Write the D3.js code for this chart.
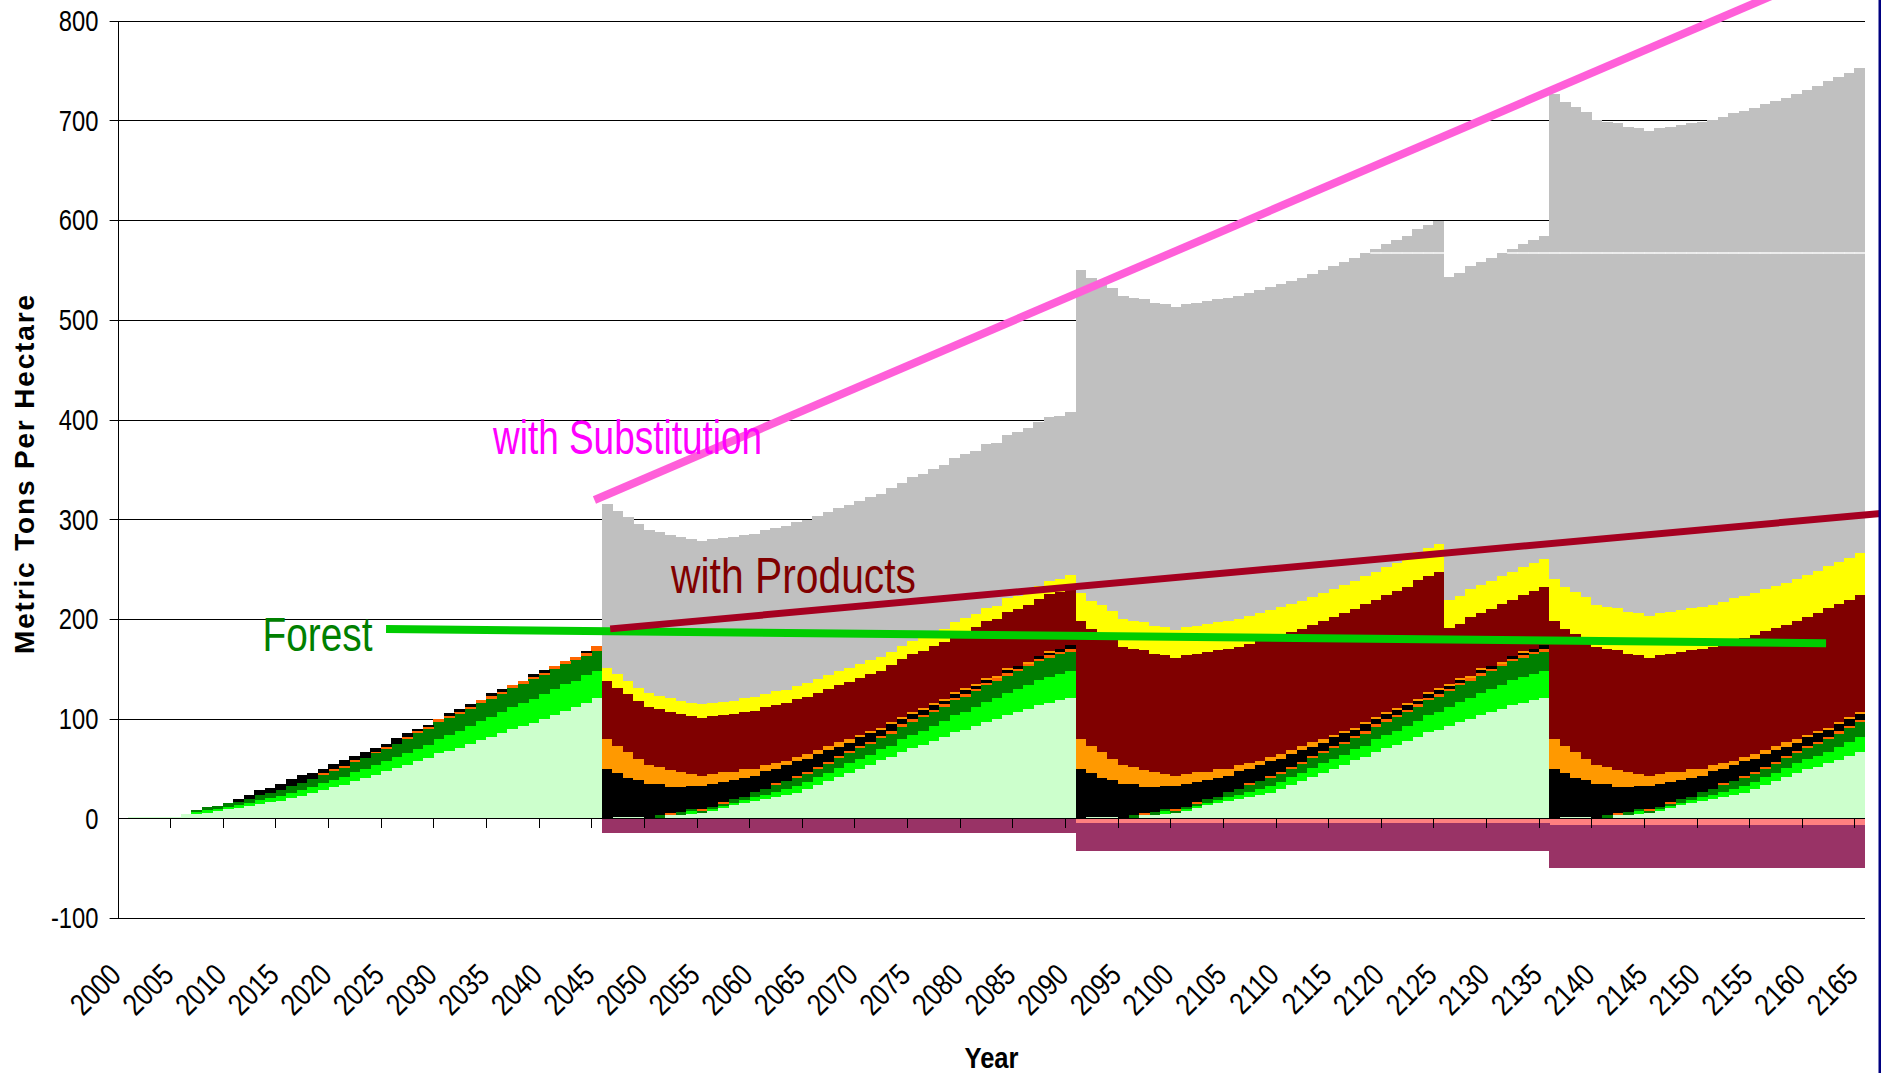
<!DOCTYPE html>
<html><head><meta charset="utf-8">
<script src="https://cdn.jsdelivr.net/npm/d3@7"></script>
<style>body{margin:0;background:#fff;} svg{display:block;}</style>
</head><body>
<svg id="chart" width="1881" height="1073"></svg>
<script>
// ---------------- DATA ----------------
const firstYear = 2000, lastYear = 2165;
const years = d3.range(firstYear, lastYear + 1);
const xTickLabels = [2000,2005,2010,2015,2020,2025,2030,2035,2040,2045,2050,2055,2060,2065,2070,2075,2080,2085,2090,2095,2100,2105,2110,2115,2120,2125,2130,2135,2140,2145,2150,2155,2160,2165];
const yTicks = [-100,0,100,200,300,400,500,600,700,800];

const lightGreen = [
 0,1,1,1,1,1,4,4.4,5.5,7,9,10,12,14,16,17,20,22.5,25,28,31,33,37,40,43,47,50,53,57,60,65,68,71,75,79,82,86,90,93,96,100,104,108,112,115.7,120.7,
 0,1.3,1.3,1.3,0,0,3.5,3.5,4.5,5.7,7.7,10.5,13,15,17.5,19.5,21.5,23.5,25.5,29,33,37,41.5,45.5,49.8,53.2,58.2,61.5,66.6,70.6,74,77.6,81.6,86.6,88.3,92.3,96.7,100,103.3,106.7,110,113.4,116,118.4,120.7,
 0,1.3,1.3,1.3,0,0,3.5,3.5,4.5,5.7,7.7,10.5,13,15,17.5,19.5,21.5,23.5,25.5,29,33,37,41.5,45.5,49.8,53.2,58.2,61.5,66.6,70.6,74,77.6,81.6,86.6,88.3,92.3,96.7,100,103.3,106.7,110,113.4,116,118.4,120.7,
 0,1.3,1.3,1.3,0,0,3.5,3.5,4.5,5.7,7.7,10.5,13,15,17.5,19.5,21.5,23.5,25.5,29,33,37,41.5,45.5,49.8,51,55,58.5,62.5,66.5];
const brightGreen = [
 0,0,0,0,0,0,0,2.2,2.5,2.5,2.5,3,3.5,4,4.5,5,5.5,6,6.5,7,7.5,8.5,9,9.5,10,10.5,11.5,12,13,14,15,16,17,18,19,20,21,22,23,24,25,26,26.5,26,27.8,27,
 0,0,0,0,0,0,0,0,2.5,0,2,2,2.5,3,3.5,4,5,6,7,7.5,8,8.5,9,9.5,10,10.5,11,11.5,12.5,13,14,15,16,17,18,19,20,21,22,23,24,25,26,26.5,27,
 0,0,0,0,0,0,0,0,2.5,0,2,2,2.5,3,3.5,4,5,6,7,7.5,8,8.5,9,9.5,10,10.5,11,11.5,12.5,13,14,15,16,17,18,19,20,21,22,23,24,25,26,26.5,27,
 0,0,0,0,0,0,0,0,2.5,0,2,2,2.5,3,3.5,4,5,6,7,7.5,8,8.5,9,9.5,10,11.5,12,13,14,15];
const darkGreen = [
 0,0,0,0,0,0,0,2.2,3,3.3,3.5,3.5,4,5,5,6,6.5,7,7.5,8,8.5,9,10,11,12,12.5,13.5,14.5,15.5,16,16.3,16.3,16.3,17,17.4,17.4,17.4,18.4,18.4,19.5,18.5,19.5,20,20.5,19,20,
 0.8,0,0,0,0,3,0,2.5,2,2,2,2,3.5,3.5,5,6,7,7.5,7.5,8,8.5,9,9.5,10,10.5,11,11.5,12,12.5,13,13.5,14,14.5,15,15.5,16,16.5,17,17.5,18,18.5,19,19,19.5,19.5,
 0.8,0,0,0,0,3,0,2.5,2,2,2,2,3.5,3.5,5,6,7,7.5,7.5,8,8.5,9,9.5,10,10.5,11,11.5,12,12.5,13,13.5,14,14.5,15,15.5,16,16.5,17,17.5,18,18.5,19,19,19.5,19.5,
 0.8,0,0,0,0,3,0,2.5,2,2,2,2,3.5,3.5,5,6,7,7.5,7.5,8,8.5,9,9.5,10,10.5,12,12.5,13.5,14,15];
const orangeRed = [
 0,0,0,0,0,0,0,0,0,0,0,0,0,0,0,0,0,0,0,2,2,2,2,0,2,2,0,2,2,2,3,2,2,1.5,3,3,2,3,3.1,2,2,3,3,3,2.8,5,
 0,0,0,0,0,0,2,0,0,2,0,2.2,0,0,0,0,2,0,2,2,2.2,2.2,2,2.2,2.2,2.2,2.2,2.5,2.5,2.5,2.5,2.5,2.5,2.5,2.5,2.5,2.5,2.5,2.5,2.5,2.5,2.5,2.5,2.5,2.5,
 0,0,0,0,0,0,2,0,0,2,0,2.2,0,0,0,0,2,0,2,2,2.2,2.2,2,2.2,2.2,2.2,2.2,2.5,2.5,2.5,2.5,2.5,2.5,2.5,2.5,2.5,2.5,2.5,2.5,2.5,2.5,2.5,2.5,2.5,2.5,
 0,0,0,0,0,0,2,0,0,2,0,2.2,0,0,0,0,2,0,2,2,2.2,2.2,2,2.2,2.2,2.2,2.2,2.5,2.5,2.5];
const black = [
 0,0,0,0,0,0,0,0,0,0,0,2.5,4.3,5,4.5,6.5,7,7.5,6,4,5,5.5,4,6.5,4,3,6,4.5,2.5,2,0,3,3,2.9,0,3,3,0,0,3,3,0,0,0,2.3,0,
 48.4,44.2,38.8,36.8,34.1,31.1,25.6,25.1,23.1,22.4,22.4,19.4,19.1,18.6,16.1,17.7,13.7,16.2,15.2,12.7,12.5,11.5,9.6,8.4,9.1,8.7,5.4,6.8,5.9,5.9,4.4,4.3,2.8,3.3,4.1,2.6,3,0,3,2.5,0,3,2.5,3,3.9,
 48.4,44.2,38.8,36.8,34.1,31.1,25.6,25.1,23.1,22.4,22.4,19.4,19.1,18.6,16.1,17.7,13.7,16.2,15.2,12.7,12.5,11.5,9.6,8.4,9.1,8.7,5.4,6.8,5.9,5.9,4.4,4.3,2.8,3.3,4.1,2.6,3,0,3,2.5,0,3,2.5,3,3.9,
 48.4,44.2,38.8,36.8,34.1,31.1,25.6,25.1,23.1,22.4,22.4,19.4,19.1,18.6,16.1,17.7,13.7,16.2,15.2,12.7,12.5,11.5,9.6,8.4,9.1,8.9,6.6,6.8,7,6];
const orange = [
 0,0,0,0,0,0,0,0,0,0,0,0,0,0,0,0,0,0,0,0,0,0,0,0,0,0,0,0,0,0,0,0,0,0,0,0,0,0,0,0,0,0,0,0,0,0,
 30.1,26.7,26.5,21.1,19.1,17.5,17,15,12,10,10,10.1,8.1,9.1,7.1,6,6.3,4.3,4.3,5,4,4,5,3.7,2,2,2,2,2,2,2,2,2,2,2,2,2,2,2,0,2,0,2,0,0,
 30.1,26.7,26.5,21.1,19.1,17.5,17,15,12,10,10,10.1,8.1,9.1,7.1,6,6.3,4.3,4.3,5,4,4,5,3.7,2,2,2,2,2,2,2,2,2,2,2,2,2,2,2,0,2,0,2,0,0,
 30.1,26.7,26.5,21.1,19.1,17.5,17,15,12,10,10,10.1,8.1,9.1,7.1,6,6.3,4.3,4.3,5,4,4,5,3.7,2,2,2,2,2,2];
const maroon = [
 0,0,0,0,0,0,0,0,0,0,0,0,0,0,0,0,0,0,0,0,0,0,0,0,0,0,0,0,0,0,0,0,0,0,0,0,0,0,0,0,0,0,0,0,0,0,
 58.2,58.6,57.8,58.2,58.5,57.8,58.6,58.3,58.3,58.6,58.3,57.2,58.2,57.8,58.5,58.3,58.2,58.1,58,57.9,57.8,57.9,57.6,57.7,57.6,57.5,57.6,57.4,57.3,57.4,57.2,57.2,57.1,57,57.1,57,56.9,56.9,56.8,56.8,56.7,56.7,56.6,56.6,56.5,
 118.4,118.1,119.4,120.8,118.8,118.6,120.5,119.1,119.4,118.8,119.4,119,120.7,119.4,120.8,118.8,119.5,120.5,119.5,119.8,118.8,118.1,117,118.7,118.4,118.8,120.1,119.1,117.4,116.7,117.6,116.6,119.4,116.4,116.8,56.6,54.3,59.5,55.7,57.7,58.4,56.5,55.7,58.1,58.4,
 118.7,118.1,118,121.1,118.8,118.6,120.5,119.1,119.4,118.8,119.4,119,120.7,119.4,120.4,118.8,119.5,121.1,119.8,119.4,119.8,119.1,117,118.7,118.4,118.4,121.1,119.1,116.7,116.7];
const yellow = [
 0,0,0,0,0,0,0,0,0,0,0,0,0,0,0,0,0,0,0,0,0,0,0,0,0,0,0,0,0,0,0,0,0,0,0,0,0,0,0,0,0,0,0,0,0,0,
 13.5,13.5,13.5,13.5,13.5,13.5,13.5,13.5,13.5,13.5,13.5,13.5,13.5,13.5,13.5,13.5,13.5,13.5,13.5,13.5,13.5,13.5,13.5,13.5,13.5,13.5,13.5,13.5,13.5,13.5,13.5,13.5,13.5,13.5,13.5,13.5,13.5,13.5,13.5,13.5,13.5,13.5,13.5,13.5,13.5,
 28,28,28,28,28,28,28,28,28,28,28,28,28,28,28,28,28,28,28,28,28,28,28,28,28,28,28,28,28,28,28,28,28,28,28,28,28,28,28,28,28,28,28,28,28,
 42,42,42,42,42,42,42,42,42,42,42,42,42,42,42,42,42,42,42,42,42,42,42,42,42,42,42,42,42,42];
const gray = [
 0,0,0,0,0,0,0,0,0,0,0,0,0,0,0,0,0,0,0,0,0,0,0,0,0,0,0,0,0,0,0,0,0,0,0,0,0,0,0,0,0,0,0,0,0,0,
 164,164,164,164,164,164,164,164,164,164,164,164,164,164,164,164,164,164,164,164,164,164,164,164,164,164,164,164,164,164,164,164,164,164,164,164,164,164,164,164,164,164,164,164,164,
 324,324,324,324,324,324,324,324,324,324,324,324,324,324,324,324,324,324,324,324,324,324,324,324,324,324,324,324,324,324,324,324,324,324,324,324,324,324,324,324,324,324,324,324,324,
 486.5,486.5,486.5,486.5,486.5,486.5,486.5,486.5,486.5,486.5,486.5,486.5,486.5,486.5,486.5,486.5,486.5,486.5,486.5,486.5,486.5,486.5,486.5,486.5,486.5,486.5,486.5,486.5,486.5,486.5];
const salmon = [
 0,0,0,0,0,0,0,0,0,0,0,0,0,0,0,0,0,0,0,0,0,0,0,0,0,0,0,0,0,0,0,0,0,0,0,0,0,0,0,0,0,0,0,0,0,0,
 0,0,0,0,0,0,0,0,0,0,0,0,0,0,0,0,0,0,0,0,0,0,0,0,0,0,0,0,0,0,0,0,0,0,0,0,0,0,0,0,0,0,0,0,0,
 -5,-5,-5,-5,-5,-5,-5,-5,-5,-5,-5,-5,-5,-5,-5,-5,-5,-5,-5,-5,-5,-5,-5,-5,-5,-5,-5,-5,-5,-5,-5,-5,-5,-5,-5,-5,-5,-5,-5,-5,-5,-5,-5,-5,-5,
 -7,-7,-7,-7,-7,-7,-7,-7,-7,-7,-7,-7,-7,-7,-7,-7,-7,-7,-7,-7,-7,-7,-7,-7,-7,-7,-7,-7,-7,-7];
const purple = [
 0,0,0,0,0,0,0,0,0,0,0,0,0,0,0,0,0,0,0,0,0,0,0,0,0,0,0,0,0,0,0,0,0,0,0,0,0,0,0,0,0,0,0,0,0,0,
 -14.8,-14.8,-14.8,-14.8,-14.8,-14.8,-14.8,-14.8,-14.8,-14.8,-14.8,-14.8,-14.8,-14.8,-14.8,-14.8,-14.8,-14.8,-14.8,-14.8,-14.8,-14.8,-14.8,-14.8,-14.8,-14.8,-14.8,-14.8,-14.8,-14.8,-14.8,-14.8,-14.8,-14.8,-14.8,-14.8,-14.8,-14.8,-14.8,-14.8,-14.8,-14.8,-14.8,-14.8,-14.8,
 -27.4,-27.4,-27.4,-27.4,-27.4,-27.4,-27.4,-27.4,-27.4,-27.4,-27.4,-27.4,-27.4,-27.4,-27.4,-27.4,-27.4,-27.4,-27.4,-27.4,-27.4,-27.4,-27.4,-27.4,-27.4,-27.4,-27.4,-27.4,-27.4,-27.4,-27.4,-27.4,-27.4,-27.4,-27.4,-27.4,-27.4,-27.4,-27.4,-27.4,-27.4,-27.4,-27.4,-27.4,-27.4,
 -42.6,-42.6,-42.6,-42.6,-42.6,-42.6,-42.6,-42.6,-42.6,-42.6,-42.6,-42.6,-42.6,-42.6,-42.6,-42.6,-42.6,-42.6,-42.6,-42.6,-42.6,-42.6,-42.6,-42.6,-42.6,-42.6,-42.6,-42.6,-42.6,-42.6];

// level inside the gray stack where a thin white seam is visible
const graySeam = 567;

// trend lines: [year, value] end points
const substitutionLine = [[2044.8, 319.3], [2159.4, 837.4]];
const productsLine = [[2046.3, 190.0], [2167.0, 305.7]];
const forestLine = [[2025.0, 189.9], [2161.8, 175.5]];

// ---------------- CHART ----------------
const series = [
  {key:'lightGreen', values:lightGreen, color:'#CCFFCC'},
  {key:'brightGreen', values:brightGreen, color:'#00FF00'},
  {key:'darkGreen', values:darkGreen, color:'#008000'},
  {key:'orangeRed', values:orangeRed, color:'#FF6600'},
  {key:'black', values:black, color:'#000000'},
  {key:'orange', values:orange, color:'#FF9900'},
  {key:'maroon', values:maroon, color:'#800000'},
  {key:'yellow', values:yellow, color:'#FFFF00'},
  {key:'gray', values:gray, color:'#C0C0C0'},
  {key:'salmon', values:salmon, color:'#FF8080'},
  {key:'purple', values:purple, color:'#993366'}
];
series.forEach(s => { if (s.values.length !== years.length) console.error(s.key, s.values.length); });

const rows = years.map((yr, i) => {
  const r = {year: yr};
  series.forEach(s => r[s.key] = s.values[i]);
  return r;
});

const svg = d3.select('#chart');
const L = 117.6, R = 1865, T = 20.7, B = 918;

const x = d3.scaleBand().domain(years).range([L, R]).padding(0);
const xc = d3.scaleLinear().domain([firstYear - 0.5, lastYear + 0.5]).range([L, R]);
const y = d3.scaleLinear().domain([-100, 800]).range([B, T]);

svg.append('rect').attr('width', 1881).attr('height', 1073).attr('fill', '#fff');

// gridlines (behind bars)
svg.append('g').selectAll('line').data(yTicks.filter(v => v !== 0)).join('line')
  .attr('x1', L - 8).attr('x2', R)
  .attr('y1', d => Math.round(y(d)) + 0.5).attr('y2', d => Math.round(y(d)) + 0.5)
  .attr('stroke', '#000').attr('stroke-width', 1);

// stacked bars
const stack = d3.stack().keys(series.map(s => s.key)).offset(d3.stackOffsetDiverging);
const layers = stack(rows);
const gBars = svg.append('g').attr('shape-rendering', 'crispEdges');
layers.forEach((layer, li) => {
  gBars.append('g').attr('fill', series[li].color)
    .selectAll('rect').data(layer.filter(d => d[1] !== d[0])).join('rect')
    .attr('x', d => x(d.data.year))
    .attr('width', x.bandwidth() + 0.4)
    .attr('y', d => y(Math.max(d[0], d[1])))
    .attr('height', d => Math.abs(y(d[0]) - y(d[1])));
});

// white seam inside tall gray bars
const totals = rows.map(r => d3.sum(series.slice(0, 9), s => r[s.key]));
svg.append('g').selectAll('rect').data(rows.filter((r, i) => totals[i] > graySeam + 0.5)).join('rect')
  .attr('x', d => x(d.year)).attr('width', x.bandwidth() + 0.4)
  .attr('y', y(graySeam) - 0.7).attr('height', 1.4).attr('fill', '#fff');

// x axis at zero with ticks every 5 categories
const gx = svg.append('g').attr('shape-rendering', 'crispEdges');
gx.append('line').attr('x1', L).attr('x2', R)
  .attr('y1', Math.round(y(0)) + 0.5).attr('y2', Math.round(y(0)) + 0.5)
  .attr('stroke', '#000');
gx.selectAll('.tk').data(xTickLabels).join('line').attr('class', 'tk')
  .attr('x1', d => Math.round(x(d)) + 0.5).attr('x2', d => Math.round(x(d)) + 0.5)
  .attr('y1', y(0)).attr('y2', y(0) + 10).attr('stroke', '#000');

// y axis
svg.append('line').attr('x1', Math.round(L) + 0.5).attr('x2', Math.round(L) + 0.5)
  .attr('y1', y(800)).attr('y2', y(-100)).attr('stroke', '#000').attr('shape-rendering', 'crispEdges');

const narrow = 0.82;
svg.append('g').selectAll('text').data(yTicks).join('text')
  .attr('transform', d => `translate(98.5,${y(d) + 10.3}) scale(${narrow},1)`)
  .attr('text-anchor', 'end')
  .attr('font-family', 'Liberation Sans, Arial, sans-serif').attr('font-size', 29)
  .text(d => d);

// x tick labels rotated
svg.append('g').selectAll('text').data(xTickLabels).join('text')
  .attr('transform', d => `translate(${x(d) + x.bandwidth() / 2},977) rotate(-45) scale(${narrow},1)`)
  .attr('text-anchor', 'end')
  .attr('font-family', 'Liberation Sans, Arial, sans-serif').attr('font-size', 31)
  .text(d => d);

// trend lines
const line = d3.line().x(d => xc(d[0])).y(d => y(d[1]));
svg.append('path').attr('d', line(forestLine)).attr('stroke', '#00CC00').attr('stroke-width', 8).attr('fill', 'none');
svg.append('path').attr('d', line(productsLine)).attr('stroke', '#A50021').attr('stroke-width', 7).attr('fill', 'none');
svg.append('path').attr('d', line(substitutionLine)).attr('stroke', '#FF5FD9').attr('stroke-width', 8).attr('fill', 'none');

// annotations
function label(txt, x0, base, size, len, color) {
  svg.append('text').attr('x', x0).attr('y', base)
    .attr('font-family', 'Liberation Sans, Arial, sans-serif').attr('font-size', size)
    .attr('fill', color).attr('textLength', len).attr('lengthAdjust', 'spacingAndGlyphs')
    .text(txt);
}
label('with Substitution', 493, 454, 49, 269, '#FF00FF');
label('with Products', 671, 593, 50, 245, '#800000');
label('Forest', 262.5, 650.5, 48, 110, '#008000');

// axis titles
svg.append('text').attr('transform', 'translate(33.5,474.5) rotate(-90)')
  .attr('text-anchor', 'middle').attr('font-family', 'Liberation Sans, Arial, sans-serif')
  .attr('font-weight', 'bold').attr('font-size', 28)
  .attr('textLength', 359).attr('lengthAdjust', 'spacing')
  .text('Metric Tons Per Hectare');
svg.append('text').attr('x', 964.5).attr('y', 1068)
  .attr('font-family', 'Liberation Sans, Arial, sans-serif')
  .attr('font-weight', 'bold').attr('font-size', 30)
  .attr('textLength', 54).attr('lengthAdjust', 'spacingAndGlyphs')
  .text('Year');

// window border at right edge
svg.append('rect').attr('x', 1878.5).attr('y', 0).attr('width', 2.5).attr('height', 1073).attr('fill', '#000080');
</script>
</body></html>
